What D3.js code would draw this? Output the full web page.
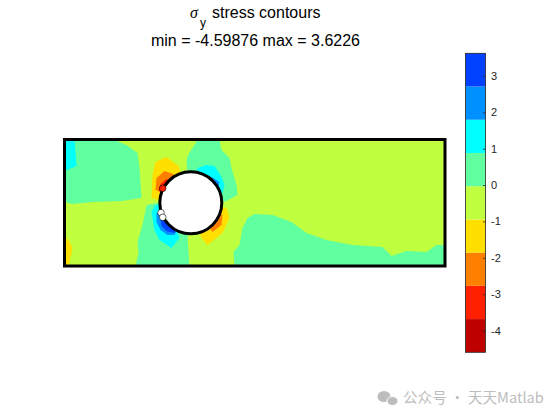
<!DOCTYPE html>
<html><head><meta charset="utf-8">
<script src="https://cdn.jsdelivr.net/npm/d3@7"></script>
<style>html,body{margin:0;padding:0;background:#fff}svg{display:block}text{font-family:"Liberation Sans",Arial,sans-serif}</style>
</head><body><div id="c"></div>
<script>
const stressMin = -4.59876, stressMax = 3.6226;
const bandColors = ["#BF0000","#FF2000","#FF8000","#FFDF00","#BFFF40","#60FFA0","#00FFFF","#0090FF","#0040FF"];
const colorbarTicks = [-4,-3,-2,-1,0,1,2,3];
const plateSize = [380.5, 126.5];
const hole = {x:126.3, y:63.2, r:31};
const titleMain = "stress contours";
const titleRange = "min = -4.59876 max = 3.6226";
const watermark = "公众号 · 天天Matlab";

// contour regions, in plate units; painted in order
const greenTopLeft = [[0,126],[50,126],[62,121],[73,113],[75,98],[77,68],[57,65],[28,64],[8,62],[0,64]];
const cyanCorner = [[0,126],[10,126],[12,100],[0,95]];
const yellowCorner = [[0,29],[4,26],[8,18],[6,8],[4,0],[0,0]];
const greenBottomLeft = [[93,63],[82,61],[78,41],[73,24],[74,13],[71,0],[125,0],[124,14],[123,29],[126,63]];
const cyanLeft = [[91,61],[87,54],[90,36],[95,26],[107,18],[115,28],[113,34],[126,63]];
const lightBlueLeft = [[92,53],[92,44],[96,36],[103,31],[110,31],[126,63]];
const blueLeft = [[96,47],[97,40],[102,35],[110,33],[126,63]];
const yellowUpper = [[87,68],[88,91],[91,104],[102,109],[114,100],[116,93],[126,63],[94,66]];
const orangeUpper = [[91,76],[92,88],[100,95],[109,92],[126,63]];
const redUpper = [[94,75],[96,82],[102,87],[126,63]];
const greenTop = [[133,126],[155,126],[157,116],[165,108],[167,98],[172,81],[173,71],[162,65],[150,62],[126,62],[122,104],[123,110]];
const cyanRight = [[133,98],[142,101],[150,100],[157,89],[160,81],[158,73],[126,63]];
const lightBlueRight = [[147,89],[155,84],[154,80],[126,63]];
const yellowLower = [[162,58],[165,48],[158,33],[143,21],[137,28],[126,63]];
const orangeLower = [[158,51],[157,41],[148,34],[126,63]];
const greenRight = [[170,0],[169,14],[175,21],[178,38],[183,48],[190,52],[208,51],[227,44],[242,33],[262,26],[288,21],[318,19],[327,10],[342,15],[362,14],[372,21],[380.5,21],[380.5,0]];

const regions = [greenTopLeft, cyanCorner, yellowCorner, greenBottomLeft, cyanLeft, lightBlueLeft, blueLeft, yellowUpper, orangeUpper, redUpper, greenTop, cyanRight, lightBlueRight, yellowLower, orangeLower, greenRight];
const regionStress = [0.1, 1.5, -1.5, 0.1, 1.5, 2.5, 3.3, -1.5, -2.4, -3.3, 0.1, 1.5, 2.5, -1.5, -2.4, 0.1];
const backgroundStress = -0.5;

const markerX = [98.2, 96.5, 98.2];
const markerY = [77.7, 53.3, 48.7];
const markerStress = [-3.3, 9, 9];

const width = 560, height = 420;
const svg = d3.select("#c").append("svg").attr("width", width).attr("height", height);
const x = d3.scaleLinear().domain([0, plateSize[0]]).range([64.5, 445]);
const y = d3.scaleLinear().domain([0, plateSize[1]]).range([266, 139.5]);
const color = d3.scaleQuantize().domain([stressMin, stressMax]).range(bandColors);
const line = d3.line().x(d => x(d[0])).y(d => y(d[1])).curve(d3.curveLinearClosed);
const outline = [[0,0],[plateSize[0],0],[plateSize[0],plateSize[1]],[0,plateSize[1]]];

svg.append("path").attr("d", line(outline)).attr("fill", color(backgroundStress));
svg.selectAll("path.region").data(regions).join("path").attr("class","region")
  .attr("d", line).attr("fill", (d,i) => color(regionStress[i]));
svg.append("circle").attr("cx", x(hole.x)).attr("cy", y(hole.y)).attr("r", x(hole.r)-x(0))
  .attr("fill","#fff").attr("stroke","#000").attr("stroke-width",3);
svg.append("path").attr("d", line(outline)).attr("fill","none").attr("stroke","#000").attr("stroke-width",3);
svg.selectAll("circle.marker").data(markerX).join("circle").attr("class","marker")
  .attr("cx", d => x(d)).attr("cy", (d,i) => y(markerY[i])).attr("r",3.3)
  .attr("fill",(d,i) => markerStress[i] > stressMax ? "#fff" : color(markerStress[i]))
  .attr("stroke","#000").attr("stroke-width",0.6);

// colorbar
const cbX = 465.5, cbW = 20;
const cy = d3.scaleLinear().domain([stressMin, stressMax]).range([352.3, 53.3]);
const bandEdges = [stressMin, ...color.thresholds(), stressMax];
svg.selectAll("rect.band").data(bandColors).join("rect").attr("class","band")
  .attr("x", cbX).attr("width", cbW)
  .attr("y", (d,i) => cy(bandEdges[i+1])).attr("height", (d,i) => cy(bandEdges[i]) - cy(bandEdges[i+1]))
  .attr("fill", d => d);
svg.append("rect").attr("x",cbX).attr("y",cy(stressMax)).attr("width",cbW).attr("height",cy(stressMin)-cy(stressMax))
  .attr("fill","none").attr("stroke","#262626").attr("stroke-width",0.8);
const axis = d3.axisRight(cy).tickValues(colorbarTicks).tickSize(-2.5).tickPadding(6).tickFormat(d3.format("d"));
const ag = svg.append("g").attr("transform",`translate(${cbX+cbW},0)`).call(axis);
ag.select(".domain").remove();
ag.selectAll("line").attr("stroke","#262626").attr("stroke-width",0.8);
ag.selectAll("text").attr("font-size",11).attr("fill","#262626").attr("x",5.5)
  .style("font-family",'"Liberation Sans",Arial,sans-serif')
  .text(d => String(d));

// titles
svg.append("text").attr("x",190).attr("y",17.5).attr("font-size",16).attr("font-style","italic")
  .style("font-family",'"Liberation Serif",serif').attr("fill","#000").text("σ");
svg.append("text").attr("x",200).attr("y",27).attr("font-size",12).attr("fill","#000").text("y");
svg.append("text").attr("x",212).attr("y",17.5).attr("font-size",16).attr("fill","#000").text(titleMain);
svg.append("text").attr("x",255.5).attr("y",46).attr("text-anchor","middle").attr("font-size",16).attr("fill","#000").text(titleRange);

// watermark
const wm = svg.append("g").attr("fill","#bdbdbd");
wm.append("ellipse").attr("cx",384).attr("cy",396.5).attr("rx",6.5).attr("ry",5.5);
wm.append("ellipse").attr("cx",392.5).attr("cy",401).attr("rx",5.5).attr("ry",4.5).attr("stroke","#fff").attr("stroke-width",1);
svg.append("text").attr("x",403).attr("y",403).attr("font-size",14.6).attr("fill","#bdbdbd")
  .style("font-family",'"Noto Sans CJK SC","Noto Sans",sans-serif').text(watermark);
</script></body></html>
